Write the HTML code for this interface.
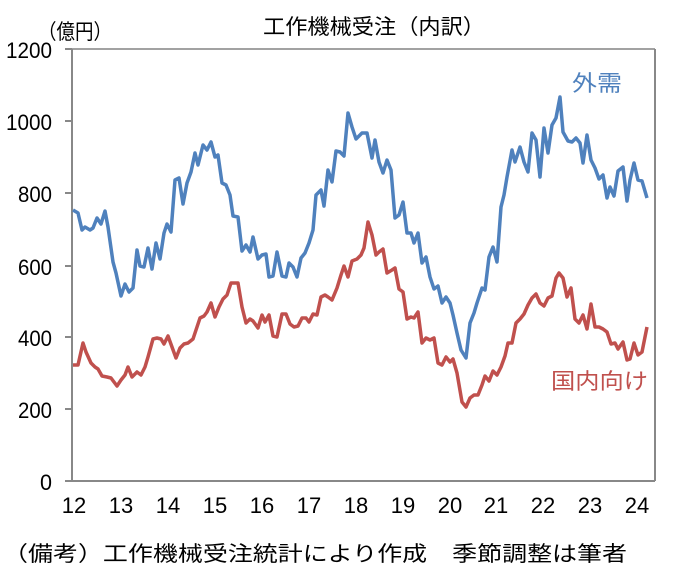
<!DOCTYPE html>
<html><head><meta charset="utf-8"><style>
html,body{margin:0;padding:0;background:#fff;}
svg{display:block;font-family:"Liberation Sans","Noto Sans CJK JP",sans-serif;}
</style></head><body>
<svg width="683" height="571" viewBox="0 0 683 571" xmlns="http://www.w3.org/2000/svg">
<rect width="683" height="571" fill="#fff"/>
<text x="263" y="34" font-size="21" fill="#000" textLength="222" lengthAdjust="spacingAndGlyphs">工作機械受注（内訳）</text>
<text x="38" y="39" font-size="21" fill="#000" textLength="74" lengthAdjust="spacingAndGlyphs">（億円）</text>
<g stroke="#888" stroke-width="2" fill="none">
<line x1="72" y1="49" x2="655" y2="49" stroke="#444" stroke-width="1"/>
<line x1="655" y1="49" x2="655" y2="481"/>
<line x1="72" y1="49" x2="72" y2="481"/>
<line x1="72" y1="481" x2="655" y2="481"/>
<line x1="65" y1="49" x2="72" y2="49"/>
<line x1="65" y1="121" x2="72" y2="121"/>
<line x1="65" y1="193" x2="72" y2="193"/>
<line x1="65" y1="266" x2="72" y2="266"/>
<line x1="65" y1="337" x2="72" y2="337"/>
<line x1="65" y1="409" x2="72" y2="409"/>
<line x1="65" y1="481" x2="72" y2="481"/>
</g>
<g font-size="22" text-anchor="end" fill="#000">
<text x="52" y="58" textLength="46" lengthAdjust="spacingAndGlyphs">1200</text>
<text x="52" y="130" textLength="46" lengthAdjust="spacingAndGlyphs">1000</text>
<text x="52" y="202" textLength="34" lengthAdjust="spacingAndGlyphs">800</text>
<text x="52" y="275" textLength="34" lengthAdjust="spacingAndGlyphs">600</text>
<text x="52" y="346" textLength="34" lengthAdjust="spacingAndGlyphs">400</text>
<text x="52" y="418" textLength="34" lengthAdjust="spacingAndGlyphs">200</text>
<text x="52" y="490" textLength="12" lengthAdjust="spacingAndGlyphs">0</text>
</g>
<g font-size="22" text-anchor="middle" fill="#000">
<text x="74" y="513">12</text><text x="121" y="513">13</text><text x="168" y="513">14</text>
<text x="215" y="513">15</text><text x="262" y="513">16</text><text x="309" y="513">17</text>
<text x="356" y="513">18</text><text x="403" y="513">19</text><text x="450" y="513">20</text>
<text x="496" y="513">21</text><text x="543" y="513">22</text><text x="590" y="513">23</text>
<text x="637" y="513">24</text>
</g>
<polyline fill="none" stroke="#4F81BD" stroke-width="3.5" stroke-linejoin="round" points="73,210 78,213 82,230 85,227 90,230 93,228 97,218 101,224 105,211 108,227 113,262 116,273 121,296 125,284 129,292 133,288 137,250 140,266 144,267 148,248 152,269 156,243 160,259 164,233 167,224 171,232 175,180 179,178 183,204 187,183 191,172 195,153 198,165 203,145 207,150 211,142 215,157 218,155 222,183 226,185 230,195 233,216 238,217 242,251 246,245 250,252 253,237 258,259 262,255 266,254 269,277 273,276 277,252 282,276 286,277 289,263 293,267 297,277 301,258 305,253 309,243 313,230 316,195 321,190 324,206 328,170 332,182 336,151 340,152 344,156 348,113 352,127 356,139 362,133 367,133 372,158 375,140 379,162 383,173 387,160 391,170 395,218 399,215 403,202 407,233 411,233 414,243 418,233 422,263 426,257 430,277 434,289 438,286 442,303 446,297 450,303 453,315 457,333 461,350 466,358 470,323 474,313 477,303 482,288 485,290 489,257 493,247 497,262 501,207 504,195 507,177 512,150 515,162 520,147 524,162 528,172 532,133 536,140 540,177 544,128 548,153 552,125 556,118 560,97 563,132 568,141 572,142 576,138 580,143 583,163 587,135 591,160 595,168 599,179 603,175 607,198 610,187 614,196 618,171 623,167 627,201 630,180 634,163 638,180 642,181 647,198"/>
<polyline fill="none" stroke="#C0504D" stroke-width="3.5" stroke-linejoin="round" points="73,365 78,365 83,343 86,352 91,363 95,367 98,369 102,376 107,377 111,378 114,382 117,386 121,380 125,375 128,367 132,377 137,372 141,375 145,367 148,357 153,339 157,338 161,339 164,344 168,336 172,347 176,358 180,348 184,344 188,343 193,339 197,327 200,318 204,316 207,312 211,303 215,317 219,307 223,299 227,295 231,283 238,283 242,307 246,323 250,319 253,321 258,328 262,315 265,322 269,315 273,336 277,337 282,314 286,314 290,324 294,327 298,326 302,318 306,318 309,322 313,314 317,315 321,297 325,295 328,297 332,300 337,288 341,275 344,266 348,277 352,261 357,259 361,255 364,248 368,222 372,235 376,255 379,252 383,249 387,273 392,270 395,268 399,289 403,292 407,319 411,317 414,318 418,312 422,343 426,338 430,340 434,338 438,363 442,365 446,357 450,362 453,359 457,373 462,402 466,407 470,398 474,395 478,395 482,385 485,376 489,381 493,371 497,375 501,367 505,356 508,343 512,343 516,323 520,319 524,314 528,305 532,298 536,294 540,303 544,306 548,298 552,296 556,278 559,273 563,278 567,297 571,288 575,319 579,323 583,315 587,329 591,304 595,327 599,327 603,329 607,332 611,344 615,343 618,349 623,342 627,360 630,359 634,343 638,355 642,352 647,327"/>
<text x="572" y="91" font-size="22" fill="#4F81BD" textLength="50" lengthAdjust="spacingAndGlyphs">外需</text>
<text x="551" y="389" font-size="22" fill="#C0504D" textLength="97" lengthAdjust="spacingAndGlyphs">国内向け</text>
<text x="3" y="561" font-size="21" fill="#000" textLength="624" lengthAdjust="spacingAndGlyphs">（備考）工作機械受注統計により作成　季節調整は筆者</text>
</svg>
</body></html>
